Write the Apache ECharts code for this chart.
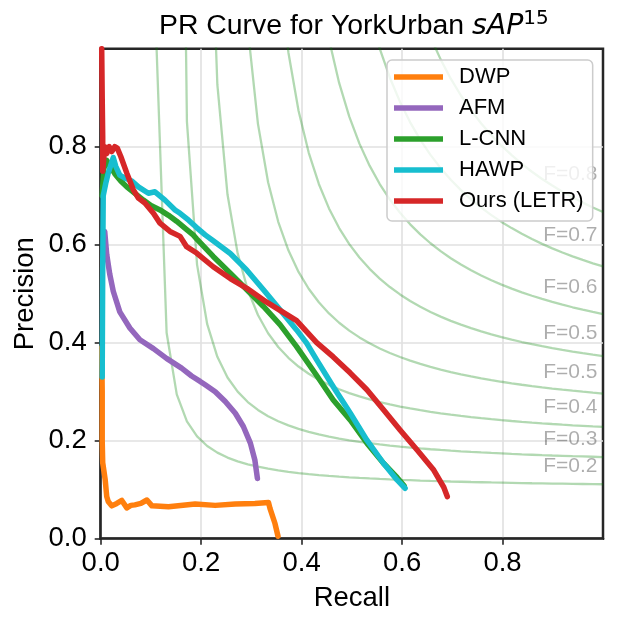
<!DOCTYPE html>
<html><head><meta charset="utf-8">
<script src="https://cdn.jsdelivr.net/npm/echarts@6/dist/echarts.min.js"></script>
<style>html,body{margin:0;padding:0;background:#fff}#c{width:621px;height:627px}</style>
</head><body><div id="c"></div>
<script>
// ---- data: [recall, precision] ----
const seriesNames = ['DWP', 'AFM', 'L-CNN', 'HAWP', 'Ours (LETR)'];
const seriesColors = ['#ff7f0e', '#9467bd', '#2ca02c', '#17becf', '#d62728'];

const dwp = [[0.002,0.39],[0.003,0.30],[0.003,0.20],[0.004,0.155],[0.009,0.12],[0.012,0.086],[0.015,0.076],[0.022,0.067],[0.032,0.072],[0.042,0.078],[0.052,0.063],[0.06,0.068],[0.068,0.069],[0.08,0.072],[0.092,0.079],[0.102,0.067],[0.135,0.065],[0.188,0.071],[0.228,0.068],[0.268,0.071],[0.307,0.072],[0.334,0.074],[0.337,0.062],[0.347,0.031],[0.353,0.005]];

const afm = [[0.008,0.627],[0.012,0.58],[0.018,0.54],[0.025,0.505],[0.038,0.463],[0.058,0.43],[0.078,0.406],[0.105,0.388],[0.131,0.368],[0.161,0.348],[0.181,0.332],[0.198,0.321],[0.208,0.314],[0.228,0.30],[0.248,0.28],[0.268,0.256],[0.284,0.229],[0.298,0.195],[0.307,0.16],[0.312,0.123]];

const lcnn = [[0.003,0.70],[0.006,0.755],[0.012,0.772],[0.02,0.758],[0.028,0.745],[0.04,0.73],[0.052,0.718],[0.07,0.703],[0.085,0.691],[0.1,0.68],[0.118,0.671],[0.135,0.66],[0.151,0.648],[0.17,0.632],[0.184,0.62],[0.191,0.612],[0.224,0.576],[0.258,0.542],[0.291,0.508],[0.324,0.474],[0.357,0.437],[0.39,0.392],[0.43,0.333],[0.463,0.283],[0.497,0.242],[0.53,0.195],[0.563,0.154],[0.59,0.125],[0.604,0.108]];

const hawp = [[0.003,0.33],[0.004,0.55],[0.005,0.70],[0.01,0.725],[0.015,0.746],[0.025,0.778],[0.03,0.76],[0.038,0.742],[0.05,0.735],[0.062,0.73],[0.075,0.718],[0.095,0.705],[0.108,0.708],[0.128,0.691],[0.148,0.671],[0.158,0.664],[0.175,0.65],[0.191,0.635],[0.208,0.62],[0.224,0.608],[0.258,0.582],[0.291,0.548],[0.324,0.508],[0.357,0.467],[0.39,0.426],[0.41,0.399],[0.43,0.365],[0.463,0.31],[0.497,0.256],[0.53,0.201],[0.563,0.154],[0.59,0.12],[0.606,0.103]];

const letr = [[0.002,1.0],[0.003,0.9],[0.004,0.82],[0.004,0.75],[0.008,0.80],[0.012,0.786],[0.017,0.80],[0.022,0.79],[0.028,0.80],[0.033,0.797],[0.04,0.78],[0.052,0.746],[0.065,0.712],[0.075,0.695],[0.088,0.685],[0.105,0.664],[0.118,0.644],[0.138,0.627],[0.158,0.617],[0.171,0.596],[0.191,0.583],[0.224,0.555],[0.258,0.531],[0.291,0.511],[0.324,0.487],[0.357,0.466],[0.39,0.445],[0.43,0.40],[0.463,0.371],[0.497,0.338],[0.53,0.304],[0.563,0.263],[0.596,0.222],[0.63,0.181],[0.663,0.14],[0.683,0.105],[0.69,0.086]];

// iso-F reference contours drawn by the original plot
const fScores = [0.2, 0.2857, 0.3714, 0.4571, 0.5429, 0.6286, 0.7143, 0.8];
const fLabels = ['F=0.2', 'F=0.3', 'F=0.4', 'F=0.5', 'F=0.5', 'F=0.6', 'F=0.7', 'F=0.8'];
const tickValues = [0, 0.2, 0.4, 0.6, 0.8];
const fLabelRecall = 0.88;

// ---- build ----
const FONT = 'Liberation Sans, Arial, sans-serif';
const isoR = [];
for (let i = 0; i < 50; i++) isoR.push(0.01 + i * 0.99 / 49);
const isoP = (f, r) => f * r / (2 * r - f);

const series = [];
fScores.forEach(f => {
  const pts = [];
  isoR.forEach(r => { const p = isoP(f, r); if (p >= 0) pts.push([r, p]); });
  series.push({
    type: 'line', data: pts, showSymbol: false, symbol: 'none', silent: true, clip: true,
    lineStyle: { color: 'rgba(0,128,0,0.3)', width: 2.3 }, z: 1, animation: false
  });
});
series.push({
  type: 'scatter', silent: true, z: 3, symbolSize: 1,
  itemStyle: { color: 'rgba(0,0,0,0)' },
  data: fScores.map(f => [fLabelRecall, isoP(f, isoR[45]) + 0.02]),
  label: {
    show: true, position: 'right', distance: 0, offset: [0, -7.3],
    formatter: p => fLabels[p.dataIndex],
    fontFamily: FONT, fontSize: 21, color: 'rgba(0,0,0,0.4)'
  }
});
const datasets = [dwp, afm, lcnn, hawp, letr];
datasets.forEach((d, i) => {
  series.push({
    name: seriesNames[i], type: 'line', data: d, showSymbol: false, symbol: 'none',
    clip: true, z: 2 + i * 0.01,
    lineStyle: { color: seriesColors[i], width: 5.5, join: 'round', cap: 'round' },
    itemStyle: { color: seriesColors[i] },
    emphasis: { disabled: true }
  });
});

const axisCommon = {
  type: 'value', min: 0, max: 1, interval: 0.2,
  nameLocation: 'middle', nameMoveOverlap: false,
  nameTextStyle: { fontFamily: FONT, fontSize: 27.5, color: '#000' },
  axisLine: { show: true, lineStyle: { color: '#262626', width: 2.5 } },
  axisTick: { show: true, length: 6, customValues: tickValues, lineStyle: { color: '#262626', width: 1.6 } },
  splitLine: { show: true, lineStyle: { color: '#e0e0e0', width: 1.6 } }
};

const chart = echarts.init(document.getElementById('c'), null, { renderer: 'canvas' });
chart.setOption({
  animation: false,
  backgroundColor: '#fff',
  title: {
    text: '{a|PR Curve for YorkUrban }{b|sAP}{c|15}',
    left: 159, top: 9, padding: 0,
    textStyle: {
      fontWeight: 'normal',
      rich: {
        a: { fontFamily: FONT, fontSize: 28.4, fontWeight: 'normal', lineHeight: 35, color: '#000' },
        b: { fontFamily: 'DejaVu Sans', fontStyle: 'italic', fontWeight: 'normal', fontSize: 28.4, lineHeight: 35, color: '#000' },
        c: { fontFamily: 'DejaVu Sans', fontSize: 20, fontWeight: 'normal', lineHeight: 22, verticalAlign: 'top', color: '#000' }
      }
    }
  },
  grid: { left: 100.7, right: 18, top: 48.7, bottom: 88.3, containLabel: false, show: true, borderColor: '#262626', borderWidth: 2.5, backgroundColor: 'transparent' },
  xAxis: Object.assign({}, axisCommon, {
    name: 'Recall', nameGap: 46,
    axisLabel: { customValues: tickValues, formatter: v => v.toFixed(1), fontFamily: FONT, fontSize: 27.5, color: '#000', margin: 11 }
  }),
  yAxis: Object.assign({}, axisCommon, {
    name: 'Precision', nameGap: 61,
    axisLabel: { customValues: tickValues, formatter: v => v.toFixed(1), fontFamily: FONT, fontSize: 27.5, color: '#000', margin: 14 }
  }),
  legend: {
    data: seriesNames, orient: 'vertical', left: 387, top: 60,
    icon: 'rect', itemWidth: 49, itemHeight: 5.5, itemGap: 9,
    padding: [6, 9, 9, 7],
    backgroundColor: 'rgba(255,255,255,0.8)', borderColor: '#cccccc', borderWidth: 1.5, borderRadius: 5,
    selectedMode: false,
    textStyle: { fontFamily: FONT, fontSize: 22, lineHeight: 22, color: '#000', padding: [0, 0, 0, 11] }
  },
  series: series
});
</script></body></html>
